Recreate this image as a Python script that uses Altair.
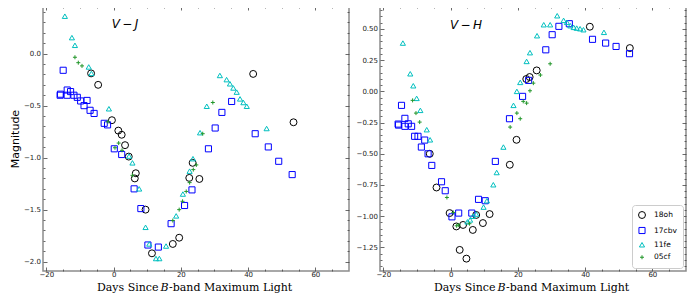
import altair as alt
import pandas as pd
import numpy as np

SERIES = ["18oh", "17cbv", "11fe", "05cf"]
COLORS = ["#000000", "#0000ff", "#00bfbf", "#22962a"]
SHAPES = ["circle", "square", "triangle-up", "M-1,0L1,0M0,-1L0,1"]
SIZES = [48, 16, 24, 18]

# ---- V - J ----
oh_vj_x = [-6.7, -4.6, -0.5, 1.4, 2.4, 3.4, 4.5, 6.3, 6.6, 9.5, 11.4, 17.6, 19.5, 22.5, 23.5, 25.5, 41.5, 53.5]
oh_vj_y = [-0.19, -0.30, -0.64, -0.74, -0.78, -0.88, -0.99, -1.20, -1.15, -1.50, -1.92, -1.83, -1.77, -1.195, -1.05, -1.205, -0.195, -0.66]
cbv_vj_x = [-15.9, -15.8, -15.0, -13.8, -13.8, -12.8, -11.8, -10.8, -9.8, -8.8, -7.9, -7.0, -5.8, -2.8, -1.8,
            0.2, 2.4, 6.1, 8.1, 10.2, 13.3, 17.1, 21.1, 23.3, 28.2, 30.2, 32.2, 35.1, 42.1, 46.0, 49.1, 53.1]
cbv_vj_y = [-0.40, -0.39, -0.16, -0.35, -0.40, -0.365, -0.40, -0.42, -0.455, -0.50, -0.45, -0.545, -0.575, -0.67, -0.685,
            -0.915, -0.97, -1.30, -1.49, -1.84, -1.86, -1.635, -1.46, -1.31, -0.915, -0.715, -0.565, -0.46, -0.77, -0.897, -1.035, -1.163]
fe_vj_x = [-14.5, -12.4, -11.5, -7.4, -6.6, -1.4, 4.6, 5.6, 7.6, 9.5, 10.6, 12.6, 13.6, 15.6, 18.6, 20.6, 22.6, 23.6,
           25.7, 27.7, 31.6, 33.6, 34.6, 35.6, 36.6, 37.6, 38.6, 39.6, 45.5]
fe_vj_y = [0.36, 0.154, 0.08, -0.128, -0.19, -0.53, -0.985, -1.05, -1.30, -1.67, -1.83, -1.97, -1.97, -1.85, -1.56, -1.35, -1.13, -1.01,
           -0.76, -0.506, -0.21, -0.25, -0.29, -0.33, -0.37, -0.435, -0.47, -0.506, -0.72]
cf_vj_x = [-11.5, -10.5, -9.4, -1.7, 0.4, 1.5, 2.5, 5.6, 17.6, 19.5, 20.5, 21.6, 22.6, 23.7, 24.6, 26.5, 29.5]
cf_vj_y = [-0.035, -0.087, -0.118, -0.655, -0.905, -0.86, -0.93, -1.17, -1.605, -1.50, -1.42, -1.325, -1.24, -1.115, -1.07, -0.77, -0.47]

# ---- V - H ----
oh_vh_x = [-6.2, -4.2, -0.3, 1.7, 2.7, 3.7, 4.7, 6.6, 7.6, 9.6, 11.6, 17.6, 19.6, 22.5, 23.5, 25.6, 41.4, 53.3]
oh_vh_y = [-0.50, -0.77, -0.975, -1.082, -1.27, -1.07, -1.34, -1.11, -0.99, -1.055, -0.983, -0.588, -0.388, 0.099, 0.115, 0.168, 0.518, 0.347]
cbv_vh_x = [-15.6, -15.5, -14.6, -13.6, -13.6, -12.6, -11.6, -10.7, -9.7, -8.7, -7.7, -6.7, -5.6, -2.7, -1.6,
            0.4, 2.4, 6.3, 8.3, 10.3, 13.3, 17.5, 21.4, 23.2, 28.3, 30.2, 32.2, 35.3, 42.2, 46.1, 49.2, 53.2]
cbv_vh_y = [-0.262, -0.27, -0.112, -0.216, -0.28, -0.26, -0.28, -0.36, -0.36, -0.446, -0.39, -0.50, -0.593, -0.724, -0.796,
            -1.005, -0.975, -0.975, -0.865, -0.876, -0.561, -0.219, -0.04, 0.088, 0.333, 0.454, 0.521, 0.542, 0.417, 0.387, 0.36, 0.302]
fe_vh_x = [-14.2, -12.0, -11.1, -10.1, -9.0, -7.1, -6.1, 5.0, 5.8, 6.6, 7.6, 9.8, 10.8, 12.7, 13.7, 15.7, 18.7, 19.7,
           20.7, 22.6, 23.6, 25.7, 27.7, 29.6, 31.7, 33.6, 34.6, 35.6, 36.6, 37.5, 38.5, 39.5, 45.6]
fe_vh_y = [0.387, 0.141, 0.045, -0.056, -0.152, -0.307, -0.388, -1.045, -1.03, -1.00, -0.983, -0.927, -0.876, -0.748, -0.65, -0.446, -0.112, 0.0,
           0.072, 0.24, 0.31, 0.446, 0.534, 0.534, 0.606, 0.569, 0.553, 0.526, 0.513, 0.507, 0.502, 0.494, 0.473]
cf_vh_x = [-11.3, -10.3, -9.2, -1.1, 0.8, 1.8, 2.4, 5.6, 17.7, 19.7, 20.7, 21.6, 22.6, 23.6, 24.6, 26.7, 29.6]
cf_vh_y = [-0.072, -0.174, -0.246, -0.85, -0.97, -1.077, -1.07, -1.06, -0.286, -0.174, -0.219, -0.08, -0.094, 0.005, 0.066, 0.131, 0.221]

X_MAJOR = [-20, 0, 20, 40, 60]
X_MINOR = [-15, -10, -5, 5, 10, 15, 25, 30, 35, 45, 50, 55, 65]
VJ_MAJOR = [0.0, -0.5, -1.0, -1.5, -2.0]
VJ_MINOR = [0.4, 0.3, 0.2, 0.1, -0.1, -0.2, -0.3, -0.4, -0.6, -0.7, -0.8, -0.9, -1.1, -1.2, -1.3, -1.4,
            -1.6, -1.7, -1.8, -1.9]
VH_MAJOR = [0.5, 0.25, 0.0, -0.25, -0.5, -0.75, -1.0, -1.25]
VH_MINOR = [0.65, 0.6, 0.55, 0.45, 0.4, 0.35, 0.3, 0.2, 0.15, 0.1, 0.05, -0.05, -0.1, -0.15, -0.2, -0.3, -0.35,
            -0.4, -0.45, -0.55, -0.6, -0.65, -0.7, -0.8, -0.85, -0.9, -0.95, -1.05, -1.1, -1.15, -1.2, -1.3, -1.35, -1.4]

W, H = 306, 265


def make_df(pairs):
    rows = []
    for name, (xs, ys) in zip(SERIES, pairs):
        for a, b in zip(xs, ys):
            rows.append({"day": a, "mag": b, "sn": name})
    return pd.DataFrame(rows)


def axis(orient, values, size, labels=False, fmt=None, pad=0):
    kw = dict(orient=orient, values=values, tickSize={"expr": str(-size)}, labels=labels,
              domain=False, grid=False, ticks=True)
    if labels:
        kw["labelPadding"] = pad
        if fmt:
            kw["format"] = fmt
    return alt.Axis(**kw)


def panel(df, ydom, ymaj, ymin, fmt, label, lab_xy, first):
    xs = alt.Scale(domain=[-21, 70], nice=False, zero=False)
    ys = alt.Scale(domain=ydom, nice=False, zero=False)
    base = alt.Chart(df)
    leg = None if first else alt.Legend(
        orient="bottom-right", title=None, offset=3, padding=6, strokeColor="#cccccc",
        fillColor="white", cornerRadius=3, labelFont="DejaVu Sans", labelFontSize=7.5,
        labelOffset=8, rowPadding=3.5, symbolStrokeWidth=1)
    ytitle = "Magnitude" if first else None
    pts = base.mark_point(filled=False, strokeWidth=1, opacity=1).encode(
        x=alt.X("day:Q", scale=xs, title=None, axis=axis("bottom", X_MAJOR, 4, True, "d", 3.5)),
        y=alt.Y("mag:Q", scale=ys, title=ytitle, axis=axis("left", ymaj, 4, True, fmt, 6.5)),
        color=alt.Color("sn:N", scale=alt.Scale(domain=SERIES, range=COLORS), legend=leg),
        shape=alt.Shape("sn:N", scale=alt.Scale(domain=SERIES, range=SHAPES), legend=leg),
        size=alt.Size("sn:N", scale=alt.Scale(domain=SERIES, range=SIZES), legend=leg),
    )
    layers = [pts]
    for xo, yo, xv, yv, sz in [("top", "right", X_MAJOR, ymaj, 4),
                               ("bottom", "left", X_MINOR, ymin, 2),
                               ("top", "right", X_MINOR, ymin, 2)]:
        layers.append(base.mark_point(opacity=0).encode(
            x=alt.X("day:Q", scale=xs, title=None, axis=axis(xo, xv, sz)),
            y=alt.Y("mag:Q", scale=ys, title=None, axis=axis(yo, yv, sz)),
        ))
    tdf = pd.DataFrame({"t": [label]})
    layers.append(alt.Chart(tdf).mark_text(font="DejaVu Sans", fontSize=12, fontStyle="italic",
                                           align="center", baseline="middle", color="black").encode(
        text="t:N", x=alt.value(lab_xy[0]), y=alt.value(lab_xy[1])))
    ty = H + 16.5
    for txt, xpos, al, st in [("Days Since", 115.5, "right", "normal"),
                              ("B", 121.5, "center", "italic"),
                              ("-band Maximum Light", 126, "left", "normal")]:
        layers.append(alt.Chart(pd.DataFrame({"t": [txt]})).mark_text(
            font="DejaVu Serif", fontSize=11, fontStyle=st, align=al, baseline="middle",
            color="black").encode(text="t:N", x=alt.value(xpos), y=alt.value(ty)))
    return alt.layer(*layers).properties(width=W, height=H)


df_vj = make_df([(oh_vj_x, oh_vj_y), (cbv_vj_x, cbv_vj_y), (fe_vj_x, fe_vj_y), (cf_vj_x, cf_vj_y)])
df_vh = make_df([(oh_vh_x, oh_vh_y), (cbv_vh_x, cbv_vh_y), (fe_vh_x, fe_vh_y), (cf_vh_x, cf_vh_y)])

left = panel(df_vj, [-2.09, 0.458], VJ_MAJOR, VJ_MINOR, ".1f", "V\u2009\u2212\u2009J", (82, 18), True)
right = panel(df_vh, [-1.439, 0.684], VH_MAJOR, VH_MINOR, ".2f", "V\u2009\u2212\u2009H", (86, 19), False)

chart = alt.hconcat(left, right, spacing=4).resolve_scale(
    color="independent", shape="independent", size="independent"
).properties(padding={"left": 0, "top": -4, "right": 0, "bottom": 0}).configure_view(
    stroke="#8c8c8c", strokeWidth=1.5
).configure_axis(
    labelFont="DejaVu Sans", labelFontSize=7, labelColor="#222222", tickColor="#444444",
    tickWidth=0.8, titleFont="DejaVu Sans", titleFontSize=11, titleFontWeight="normal",
    titleColor="black", titlePadding=3
)

chart.save("out.html", embed_options={"renderer": "svg", "actions": False})
